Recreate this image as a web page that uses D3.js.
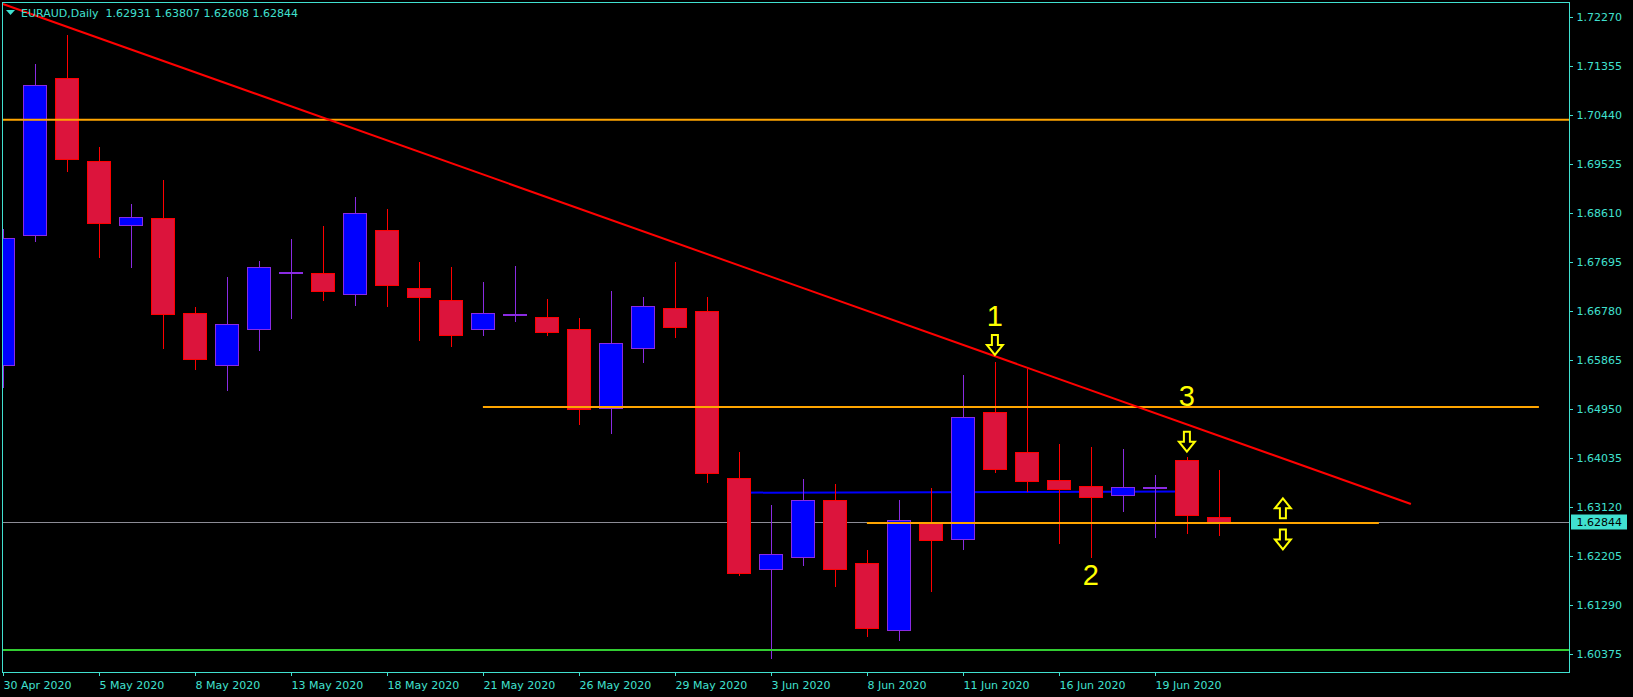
<!DOCTYPE html>
<html><head><meta charset="utf-8">
<script src="https://cdn.jsdelivr.net/npm/d3@7/dist/d3.min.js"></script>
<style>html,body{margin:0;padding:0;background:#000;overflow:hidden}</style>
</head><body>
<svg id="chart" width="1633" height="697"></svg>
<script>
// ---- data ----
const dates = ["30 Apr 2020","1 May 2020","4 May 2020","5 May 2020","6 May 2020","7 May 2020","8 May 2020","11 May 2020","12 May 2020","13 May 2020","14 May 2020","15 May 2020","18 May 2020","19 May 2020","20 May 2020","21 May 2020","22 May 2020","25 May 2020","26 May 2020","27 May 2020","28 May 2020","29 May 2020","1 Jun 2020","2 Jun 2020","3 Jun 2020","4 Jun 2020","5 Jun 2020","8 Jun 2020","9 Jun 2020","10 Jun 2020","11 Jun 2020","12 Jun 2020","15 Jun 2020","16 Jun 2020","17 Jun 2020","18 Jun 2020","19 Jun 2020","22 Jun 2020","23 Jun 2020"];
const openP  = [1.65767,1.68203,1.71126,1.69573,1.68379,1.68515,1.66737,1.65767,1.66450,1.67500,1.67483,1.67103,1.68291,1.67209,1.66985,1.66439,1.66719,1.66663,1.66444,1.64965,1.66084,1.66836,1.66780,1.63665,1.61962,1.62185,1.63249,1.62073,1.60824,1.62825,1.62533,1.64896,1.64144,1.63627,1.63516,1.63342,1.63502,1.64000,1.62931];
const highP  = [1.68304,1.71388,1.71929,1.69839,1.68776,1.69224,1.66855,1.67414,1.67713,1.68123,1.68366,1.68901,1.68683,1.67694,1.67601,1.67321,1.67619,1.67004,1.66650,1.67153,1.67041,1.67694,1.67041,1.64150,1.63161,1.63646,1.63553,1.62322,1.63249,1.63478,1.65586,1.65834,1.65698,1.64299,1.64243,1.64206,1.63721,1.64051,1.63807];
const lowP   = [1.65368,1.68091,1.69392,1.67793,1.67606,1.66095,1.65698,1.65312,1.66058,1.66655,1.66991,1.66898,1.66879,1.66239,1.66133,1.66327,1.66599,1.66338,1.64678,1.64510,1.65834,1.66301,1.63590,1.61855,1.60313,1.62042,1.61656,1.60723,1.60648,1.61562,1.62340,1.63782,1.63422,1.62458,1.62197,1.63055,1.62570,1.62644,1.62608];
const closeP = [1.68142,1.70990,1.69621,1.68416,1.68528,1.66719,1.65890,1.66538,1.67601,1.67512,1.67159,1.68603,1.67270,1.67047,1.66327,1.66737,1.66719,1.66394,1.64957,1.66183,1.66873,1.66487,1.63764,1.61898,1.62241,1.63249,1.61973,1.60861,1.62876,1.62514,1.64797,1.63838,1.63614,1.63465,1.63305,1.63491,1.63502,1.62969,1.62844];

const priceTicks = [1.60375,1.61290,1.62205,1.63120,1.64035,1.64950,1.65865,1.66780,1.67695,1.68610,1.69525,1.70440,1.71355,1.72270];
const dateTickIdx = [0,3,6,9,12,15,18,21,24,27,30,33,36];

const symbol = "EURAUD,Daily";
const lastBid = 1.62844;

// horizontal lines: [fromBar, toBar, price]
const hLines = [
  {from: -1, to: 60, price: 1.70349, color: "#FFA500", w: 2},
  {from: 15, to: 48, price: 1.64989, color: "#FFA500", w: 2},
  {from: 27, to: 43, price: 1.62825, color: "#FFA500", w: 2},
  {from: -1, to: 60, price: 1.60456, color: "#32CD32", w: 2}
];
const blueLine = {from: 23, to: 37, p1: 1.63390, p2: 1.63412};
const trendLine = {from: 0, to: 44, p1: 1.72507, p2: 1.63180};
const labels = [{bar: 31, price: 1.66506, text: "1"}, {bar: 34, price: 1.61669, text: "2"}, {bar: 37, price: 1.65014, text: "3"}];
const arrows = [{bar: 31, price: 1.65959, dir: "down"}, {bar: 37, price: 1.64155, dir: "down"}, {bar: 40, price: 1.63286, dir: "up"}, {bar: 40, price: 1.62331, dir: "down"}];

// ---- layout ----
const L = 2.5, T = 2.5, R = 1569.5, B = 672.5;
const axisCol = "#40E0D0";
const svg = d3.select("#chart");
svg.append("rect").attr("width",1633).attr("height",697).attr("fill","#000");

const x = d3.scaleLinear().domain([0, 48]).range([2.9, 1538.9]);
const y = d3.scaleLinear().domain([1.60375, 1.72270]).range([654.3, 16.7]);
const py = v => Math.round(y(v)) + 0.5;

svg.append("defs").append("clipPath").attr("id","plot").append("rect")
  .attr("x", L).attr("y", T).attr("width", R - L).attr("height", B - T);
const plot = svg.append("g").attr("clip-path","url(#plot)");

// background objects
plot.append("line").attr("x1", L).attr("x2", R).attr("y1", py(lastBid)).attr("y2", py(lastBid))
  .attr("stroke","#8c8c96").attr("stroke-width",1);
plot.append("line").attr("x1", x(blueLine.from)).attr("x2", x(blueLine.to))
  .attr("y1", y(blueLine.p1)).attr("y2", y(blueLine.p2))
  .attr("stroke","#0000FF").attr("stroke-width",2);

// candles
const candles = dates.map((d,i)=>({i, d, o: openP[i], h: highP[i], l: lowP[i], c: closeP[i]}));
const cg = plot.append("g").attr("shape-rendering","crispEdges");
candles.forEach(k => {
  const bull = k.c >= k.o;
  const edge = bull ? "#8A2BE2" : "#FF0000";
  const fill = bull ? "#0000FF" : "#DC143C";
  const cx = Math.round(x(k.i));
  cg.append("line").attr("x1", cx + 0.5).attr("x2", cx + 0.5)
    .attr("y1", Math.round(y(k.h))).attr("y2", Math.round(y(k.l)) + 1)
    .attr("stroke", edge).attr("stroke-width", 1);
  const yt = Math.round(y(Math.max(k.o, k.c))), yb = Math.round(y(Math.min(k.o, k.c)));
  cg.append("rect").attr("x", cx - 11.5).attr("y", yt + 0.5)
    .attr("width", 23).attr("height", Math.max(1, yb - yt))
    .attr("fill", fill).attr("stroke", edge).attr("stroke-width", 1);
});

// foreground objects
hLines.forEach(h => {
  plot.append("line").attr("x1", x(h.from)).attr("x2", x(h.to))
    .attr("y1", y(h.price)).attr("y2", y(h.price))
    .attr("stroke", h.color).attr("stroke-width", h.w);
});
plot.append("line").attr("x1", x(trendLine.from)).attr("x2", x(trendLine.to))
  .attr("y1", y(trendLine.p1)).attr("y2", y(trendLine.p2))
  .attr("stroke","#FF0000").attr("stroke-width",2);

labels.forEach(t => {
  plot.append("text").attr("x", x(t.bar)).attr("y", y(t.price))
    .attr("text-anchor","middle").attr("font-family","'Liberation Sans', Arial, sans-serif")
    .attr("font-size", 29).attr("fill","#FFFF00").text(t.text);
});
arrows.forEach(a => {
  const cx = x(a.bar), tip = y(a.price);
  const sw = 3, hw = 8, hh = 10, tot = 20;
  let pts;
  if (a.dir === "down") {
    const y0 = tip - tot;
    pts = [[cx-sw,y0],[cx+sw,y0],[cx+sw,y0+hh],[cx+hw,y0+hh],[cx,tip],[cx-hw,y0+hh],[cx-sw,y0+hh]];
  } else {
    const y1 = tip + tot;
    pts = [[cx-sw,y1],[cx+sw,y1],[cx+sw,tip+hh],[cx+hw,tip+hh],[cx,tip],[cx-hw,tip+hh],[cx-sw,tip+hh]];
  }
  plot.append("path").attr("d", "M" + pts.map(p => p.join(",")).join("L") + "Z")
    .attr("fill","#000").attr("stroke","#FFFF00").attr("stroke-width",2).attr("stroke-linejoin","miter");
});

// frame
svg.append("rect").attr("x", L).attr("y", T).attr("width", R - L).attr("height", B - T)
  .attr("fill","none").attr("stroke", axisCol).attr("stroke-width",1).attr("shape-rendering","crispEdges");

// y axis
const yAxis = d3.axisRight(y).tickValues(priceTicks).tickSize(3).tickFormat(d3.format(".5f"));
const gy = svg.append("g").attr("transform", `translate(${R},0)`).call(yAxis);
gy.select(".domain").remove();
gy.selectAll("line").attr("stroke", axisCol).attr("shape-rendering","crispEdges");
gy.selectAll("text").attr("x", 7).attr("fill", axisCol)
  .attr("font-family","'DejaVu Sans', Tahoma, sans-serif").attr("font-size", 11);

// x axis
const xAxis = d3.axisBottom(x).tickValues(dateTickIdx).tickSize(3).tickFormat(i => dates[i]);
const gx = svg.append("g").attr("transform", `translate(0,${B})`).call(xAxis);
gx.select(".domain").remove();
gx.selectAll("line").attr("stroke", axisCol).attr("shape-rendering","crispEdges");
gx.selectAll("text").attr("y", 16.5).attr("dy", 0).attr("x", 0).attr("text-anchor","start")
  .attr("fill", axisCol).attr("font-family","'DejaVu Sans', Tahoma, sans-serif").attr("font-size", 11);

// current price label
svg.append("rect").attr("x", 1571).attr("y", Math.round(y(lastBid)) - 7.5).attr("width", 56).attr("height", 15)
  .attr("fill", axisCol);
svg.append("text").attr("x", 1576.5).attr("y", y(lastBid)).attr("dy","0.35em")
  .attr("font-family","'DejaVu Sans', Tahoma, sans-serif").attr("font-size", 11).attr("fill","#000")
  .text(d3.format(".5f")(lastBid));

// header
svg.append("path").attr("d","M6,10L15,10L10.5,15Z").attr("fill", axisCol);
const last = candles[candles.length - 1];
svg.append("text").attr("x", 21).attr("y", 17).attr("fill", axisCol)
  .attr("font-family","'DejaVu Sans', Tahoma, sans-serif").attr("font-size", 11)
  .style("white-space","pre")
  .text(`${symbol}  ${[last.o,last.h,last.l,last.c].map(d3.format(".5f")).join(" ")}`);
</script>
</body></html>
